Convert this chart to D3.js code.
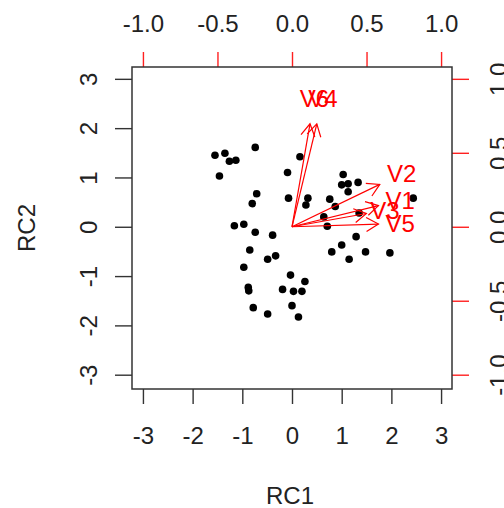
<!DOCTYPE html>
<html>
<head>
<meta charset="utf-8">
<script src="https://cdn.jsdelivr.net/npm/d3@7"></script>
<style>
  body { margin: 0; background: #fff; }
  text { font-family: "Liberation Sans", Arial, sans-serif; }
</style>
</head>
<body>
<svg width="504" height="508"></svg>
<script>
// component scores (RC1, RC2)
const scoresRC1 = [-1.55, -1.35, -1.26, -1.13, -1.46, -0.74, 0.16, -0.09, -0.71, -0.80,
  -0.07, 0.32, 0.28, 1.03, 1.00, 1.13, 1.33, 1.13, 0.76, 0.87,
  2.44, 0.64, 0.71, 1.35, -1.16, -0.97, -0.74, -0.39, -0.85, -0.49,
  -0.33, -0.97, 0.80, 1.00, 1.29, 1.15, 1.48, 1.97, -0.03, 0.26,
  -0.88, -0.87, -0.19, 0.03, 0.20, -0.78, -0.49, 0.00, 0.13];
const scoresRC2 = [1.45, 1.49, 1.33, 1.35, 1.03, 1.61, 1.42, 1.10, 0.67, 0.47,
  0.58, 0.58, 0.44, 1.06, 0.85, 0.87, 0.90, 0.71, 0.56, 0.41,
  0.58, 0.20, 0.01, 0.28, 0.02, 0.05, -0.11, -0.17, -0.47, -0.66,
  -0.59, -0.82, -0.51, -0.37, -0.20, -0.66, -0.51, -0.53, -0.98, -1.11,
  -1.23, -1.30, -1.27, -1.31, -1.31, -1.64, -1.77, -1.60, -1.83];

// loadings
const variables = ["V1", "V2", "V3", "V4", "V5", "V6"];
const loadRC1 = [0.725, 0.736, 0.624, 0.208, 0.725, 0.151];
const loadRC2 = [0.179, 0.358, 0.112, 0.870, 0.023, 0.870];

const scoreTicks = [-3, -2, -1, 0, 1, 2, 3];
const loadTicks = [-1, -0.5, 0, 0.5, 1];

const svg = d3.select("svg");
const plotL = 132, plotR = 452, plotT = 67, plotB = 389;

const x = d3.scaleLinear().domain([-3.22, 3.22]).range([plotL, plotR]);
const y = d3.scaleLinear().domain([-3.29, 3.24]).range([plotB, plotT]);
const xl = d3.scaleLinear().domain([-3.22 / 3, 3.22 / 3]).range([plotL, plotR]);
const yl = d3.scaleLinear().domain([-3.29 / 3, 3.24 / 3]).range([plotB, plotT]);

// R prints a plain hyphen for negatives
const intFmt = d => String(d);
const decFmt = d => d.toFixed(1);

const styleAxis = (g, tickColor) => {
  g.select(".domain").remove();
  g.selectAll("line").attr("stroke", tickColor).attr("stroke-width", 1.4);
  g.selectAll("text")
    .attr("fill", "#222")
    .attr("font-size", 24)
    .attr("font-family", "'Liberation Sans', Arial, sans-serif");
};

// bottom
svg.append("g")
  .attr("transform", `translate(0,${plotB})`)
  .call(d3.axisBottom(x).tickValues(scoreTicks).tickSize(15).tickPadding(23).tickFormat(intFmt))
  .call(g => styleAxis(g, "#333"));

// left
svg.append("g")
  .attr("transform", `translate(${plotL},0)`)
  .call(d3.axisLeft(y).tickValues(scoreTicks).tickSize(17).tickFormat(intFmt))
  .call(g => styleAxis(g, "#333"))
  .call(g => g.selectAll("text")
    .attr("x", 0).attr("dy", 0)
    .attr("text-anchor", "middle")
    .attr("transform", "translate(-35,0) rotate(-90)"));

// top (loadings)
svg.append("g")
  .attr("transform", `translate(0,${plotT})`)
  .call(d3.axisTop(xl).tickValues(loadTicks).tickSize(15).tickFormat(decFmt))
  .call(g => styleAxis(g, "#ff2020"))
  .call(g => g.selectAll("text").attr("y", -35).attr("dy", 0));

// right (loadings)
svg.append("g")
  .attr("transform", `translate(${plotR},0)`)
  .call(d3.axisRight(yl).tickValues(loadTicks).tickSize(17).tickFormat(decFmt))
  .call(g => styleAxis(g, "#ff2020"))
  .call(g => g.selectAll("text")
    .attr("x", 0).attr("dy", 0)
    .attr("text-anchor", "middle")
    .attr("transform", "translate(55,0) rotate(-90)"));

// box
svg.append("rect")
  .attr("x", plotL).attr("y", plotT)
  .attr("width", plotR - plotL).attr("height", plotB - plotT)
  .attr("fill", "none").attr("stroke", "#333").attr("stroke-width", 1.5);

// points
svg.append("g")
  .selectAll("circle")
  .data(scoresRC1.map((d, i) => [d, scoresRC2[i]]))
  .join("circle")
  .attr("cx", d => x(d[0]))
  .attr("cy", d => y(d[1]))
  .attr("r", 3.8)
  .attr("fill", "#000");

// arrows
const loads = variables.map((v, i) => ({ v, a: loadRC1[i], b: loadRC2[i] }));
const ag = svg.append("g").attr("stroke", "#ff0000").attr("stroke-width", 1.2).attr("fill", "none");
const headLen = 14, headAng = Math.PI / 6;
loads.forEach(d => {
  const x0 = xl(0), y0 = yl(0);
  const x1 = xl(d.a * 0.8), y1 = yl(d.b * 0.8);
  const ang = Math.atan2(y1 - y0, x1 - x0);
  ag.append("line").attr("x1", x0).attr("y1", y0).attr("x2", x1).attr("y2", y1);
  ag.append("path").attr("d", d3.line()([
    [x1 - headLen * Math.cos(ang - headAng), y1 - headLen * Math.sin(ang - headAng)],
    [x1, y1],
    [x1 - headLen * Math.cos(ang + headAng), y1 - headLen * Math.sin(ang + headAng)]
  ]));
});

svg.append("g")
  .selectAll("text")
  .data(loads)
  .join("text")
  .attr("x", d => xl(d.a))
  .attr("y", d => yl(d.b))
  .attr("dy", "0.36em")
  .attr("text-anchor", "middle")
  .attr("font-size", 24)
  .attr("fill", "#ff0000")
  .text(d => d.v);

// axis titles
svg.append("text")
  .attr("x", (plotL + plotR) / 2 - 2).attr("y", 504)
  .attr("text-anchor", "middle").attr("font-size", 24).attr("fill", "#222")
  .text("RC1");
svg.append("text")
  .attr("transform", `translate(35,${(plotT + plotB) / 2}) rotate(-90)`)
  .attr("text-anchor", "middle").attr("font-size", 24).attr("fill", "#222")
  .text("RC2");
</script>
</body>
</html>
